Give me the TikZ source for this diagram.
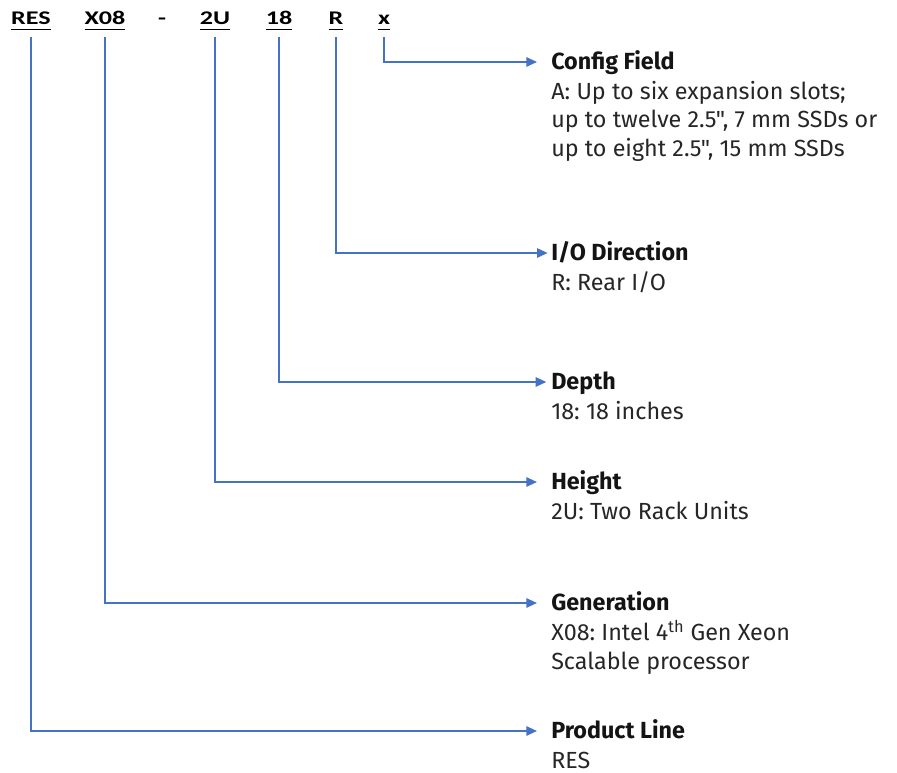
\documentclass[tikz,border=0pt]{standalone}
\usepackage{fontspec}
\setmainfont{Fira Sans}[Ligatures=TeXOff]
\newfontfamily\codefont{Carlito}
\usepackage{tikz}
\usetikzlibrary{
  positioning,
  arrows.meta
}
\frenchspacing
\definecolor{linkblue}{RGB}{68,114,196}
\definecolor{titleink}{RGB}{20,20,20}
\definecolor{descink}{RGB}{38,38,38}
\newcommand{\codelabel}[1]{\scalebox{1.35}[1]{\underline{#1\vphantom{y}}}}
\newcommand{\firstline}{\rule{0pt}{15pt}}
\tikzset{
  codenode/.style={
    font=\codefont\bfseries\fontsize{14.5}{16}\selectfont,
    anchor=base, inner xsep=0pt, inner ysep=5pt, text=black
  },
  fieldtitle/.style={
    font=\fontseries{sb}\selectfont\fontsize{17.5}{21}\selectfont, text=titleink,
    anchor=west, inner xsep=10.5pt, inner ysep=0pt,
    text height=12pt, text depth=0pt
  },
  fielddesc/.style={
    font=\fontseries{l}\fontsize{17.5}{21.4}\selectfont, text=descink,
    align=left, inner xsep=10.5pt, inner ysep=0pt
  },
  link/.style={
    draw=linkblue, line width=1.4pt,
    -{Triangle[length=8pt,width=7pt]}
  }
}
\begin{document}
\begin{tikzpicture}[x=0.75pt, y=-0.75pt]
  \useasboundingbox (0,0) rectangle (897,773);
  % part number
  \node[codenode] (lineC) at (31,24.5) {\codelabel{RES}};
  \node[codenode] (genC) at (105,24.5) {\codelabel{X08}};
  \node[codenode] (hyph) at (162,24.5) {\scalebox{1.35}[1]{-}};
  \node[codenode] (heightC) at (215,24.5) {\codelabel{2U}};
  \node[codenode] (depthC) at (279,24.5) {\codelabel{18}};
  \node[codenode] (ioC) at (336,24.5) {\codelabel{R}};
  \node[codenode] (cfgC) at (384,24.5) {\codelabel{x}};

  % field descriptions
  \node[fieldtitle] (cfgT) at (537,62) {Config Field};
  \node[fielddesc, below=6.4pt of cfgT.south west, anchor=north west] (cfgD)
    {\firstline A: Up to six expansion slots;\\ up to twelve 2.5", 7 mm SSDs or\\ up to eight 2.5", 15 mm SSDs};
  \node[fieldtitle] (ioT) at (537,253) {I/O Direction};
  \node[fielddesc, below=6.4pt of ioT.south west, anchor=north west] (ioD)
    {\firstline R: Rear I/O};
  \node[fieldtitle] (depthT) at (537,382) {Depth};
  \node[fielddesc, below=6.4pt of depthT.south west, anchor=north west] (depthD)
    {\firstline 18: 18 inches};
  \node[fieldtitle] (heightT) at (537,482) {Height};
  \node[fielddesc, below=6.4pt of heightT.south west, anchor=north west] (heightD)
    {\firstline 2U: Two Rack Units};
  \node[fieldtitle] (genT) at (537,603) {Generation};
  \node[fielddesc, below=6.4pt of genT.south west, anchor=north west] (genD)
    {\firstline X08: Intel 4\textsuperscript{th} Gen Xeon\\ Scalable processor};
  \node[fieldtitle] (lineT) at (537,731) {Product Line};
  \node[fielddesc, below=6.4pt of lineT.south west, anchor=north west] (lineD)
    {\firstline RES};

  % connectors
  \draw[link] (cfgC.south) |- (cfgT.west);
  \draw[link, shorten >=-8pt] (ioC.south) |- (ioT.west);
  \draw[link, shorten >=-7pt] (depthC.south) |- (depthT.west);
  \draw[link] (heightC.south) |- (heightT.west);
  \draw[link] (genC.south) |- (genT.west);
  \draw[link] (lineC.south) |- (lineT.west);
\end{tikzpicture}
\end{document}
